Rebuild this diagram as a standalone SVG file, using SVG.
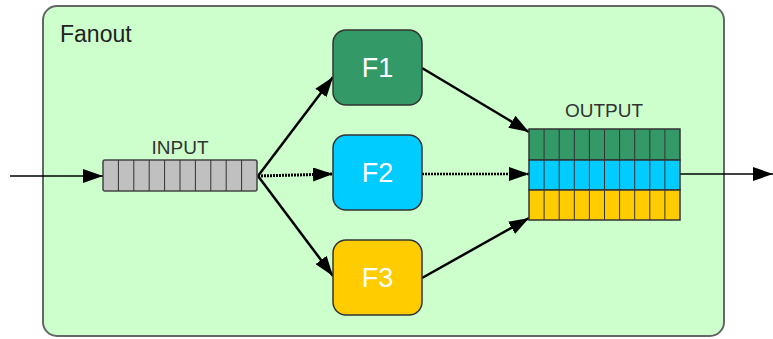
<svg xmlns="http://www.w3.org/2000/svg" width="773" height="339" viewBox="0 0 773 339">
<style>
text{font-family:"Liberation Sans",Arial,sans-serif}
.lbl{font-size:19px;fill:#333;text-anchor:middle}
.fn{font-size:27px;fill:#fff;text-anchor:middle}
.cell{stroke:#333;stroke-width:1;fill:none}
.box{stroke:#333;stroke-width:1.5}
</style>
<defs>
<marker id="ah2" viewBox="0 0 20 14" refX="20" refY="7" markerWidth="20" markerHeight="14" markerUnits="userSpaceOnUse" orient="auto">
<path d="M0,0 L20,7 L0,14 z" fill="#000"/>
</marker>
</defs>
<g id="fanout">
<rect x="43" y="6" width="681" height="330" rx="14" fill="#ccffcc" stroke="#666" stroke-width="2"/>
<text x="60" y="42" style="font-size:23px;fill:#222">Fanout</text>
</g>
<g id="connectors" stroke="#000" fill="none">
<line x1="10" y1="176" x2="103" y2="176" stroke-width="1.5" marker-end="url(#ah2)"/>
<line x1="258" y1="176" x2="333" y2="77" stroke-width="2.5" marker-end="url(#ah2)"/>
<line x1="258" y1="176" x2="333" y2="174" stroke-width="3" stroke-dasharray="2 1" marker-end="url(#ah2)"/>
<line x1="258" y1="176" x2="333" y2="276" stroke-width="2.5" marker-end="url(#ah2)"/>
<line x1="422" y1="68" x2="529" y2="132" stroke-width="2.5" marker-end="url(#ah2)"/>
<line x1="422" y1="174" x2="529" y2="174" stroke-width="2.5" stroke-dasharray="2 1" marker-end="url(#ah2)"/>
<line x1="422" y1="278" x2="529" y2="218" stroke-width="2.5" marker-end="url(#ah2)"/>
<line x1="680" y1="174" x2="773" y2="174" stroke-width="1.5" marker-end="url(#ah2)"/>
</g>
<g id="input">
<text x="180" y="154" class="lbl">INPUT</text>
<rect x="103" y="160" width="154" height="31" rx="2" fill="#c0c0c0" stroke="#444" stroke-width="1.5"/>
<path class="cell" d="M118.4,160v31M133.8,160v31M149.2,160v31M164.6,160v31M180,160v31M195.4,160v31M210.8,160v31M226.2,160v31M241.6,160v31"/>
</g>
<g id="f1">
<rect x="333" y="30" width="89" height="75" rx="13" fill="#339966" class="box"/>
<text x="377.5" y="77" class="fn">F1</text>
</g>
<g id="f2">
<rect x="333" y="135" width="89" height="75" rx="13" fill="#00ccff" class="box"/>
<text x="377.5" y="182" class="fn">F2</text>
</g>
<g id="f3">
<rect x="333" y="240" width="89" height="75" rx="13" fill="#ffcc00" class="box"/>
<text x="377.5" y="287" class="fn">F3</text>
</g>
<g id="output">
<text x="604" y="117" class="lbl">OUTPUT</text>
<rect x="529" y="129" width="151" height="31" fill="#339966" stroke="#333" stroke-width="1.5"/>
<rect x="529" y="160" width="151" height="30" fill="#00ccff" stroke="#333" stroke-width="1.5"/>
<rect x="529" y="190" width="151" height="30" fill="#ffcc00" stroke="#333" stroke-width="1.5"/>
<path class="cell" d="M544.1,129v91M559.2,129v91M574.3,129v91M589.4,129v91M604.5,129v91M619.6,129v91M634.7,129v91M649.8,129v91M664.9,129v91"/>
</g>
</svg>
